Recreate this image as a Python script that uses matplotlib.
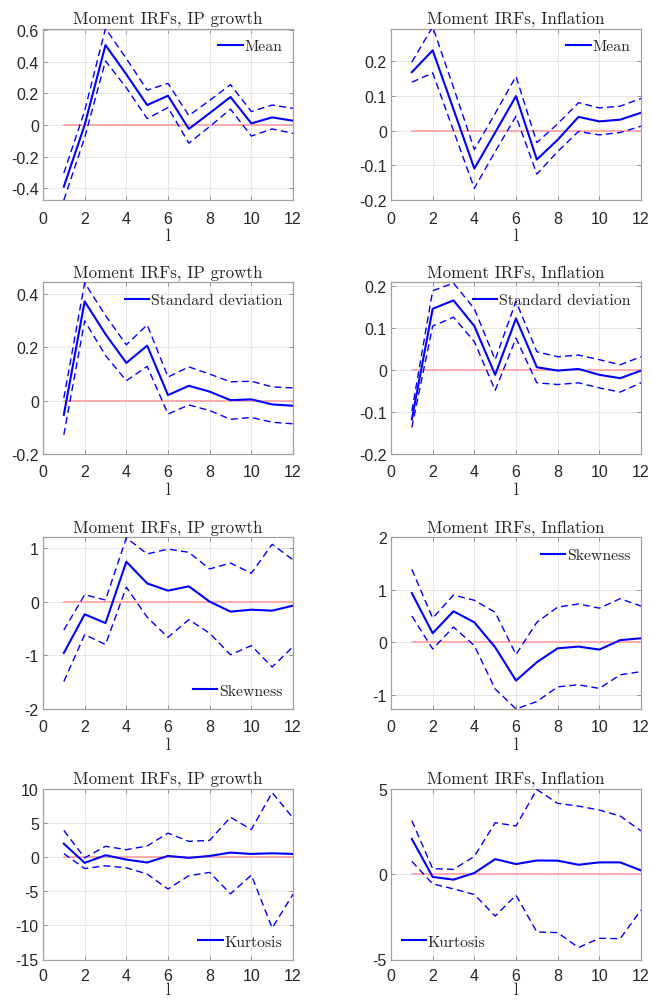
import matplotlib
matplotlib.use("Agg")
import matplotlib.pyplot as plt
import numpy as np

plt.rcParams['axes.unicode_minus'] = False

horizons = list(range(1, 13))

# IP growth - Mean
ip_mean = [-0.39, 0.0, 0.505, 0.32, 0.126, 0.185, -0.025, 0.075, 0.177, 0.01, 0.048, 0.027]
ip_mean_hi = [-0.305, 0.09, 0.61, 0.42, 0.22, 0.263, 0.06, 0.155, 0.255, 0.085, 0.126, 0.105]
ip_mean_lo = [-0.475, -0.08, 0.405, 0.235, 0.04, 0.11, -0.115, -0.01, 0.10, -0.07, -0.025, -0.053]

# Inflation - Mean
inf_mean = [0.169, 0.232, 0.062, -0.109, -0.005, 0.10, -0.083, -0.026, 0.04, 0.027, 0.032, 0.052]
inf_mean_hi = [0.198, 0.30, 0.125, -0.054, 0.05, 0.157, -0.034, 0.02, 0.081, 0.066, 0.071, 0.093]
inf_mean_lo = [0.14, 0.167, 0.0, -0.166, -0.06, 0.042, -0.125, -0.06, -0.002, -0.012, -0.005, 0.013]

# IP growth - Standard deviation
ip_sd = [-0.053, 0.373, 0.25, 0.142, 0.207, 0.021, 0.056, 0.034, 0.002, 0.005, -0.014, -0.019]
ip_sd_hi = [0.01, 0.443, 0.32, 0.21, 0.285, 0.089, 0.127, 0.10, 0.071, 0.073, 0.052, 0.048]
ip_sd_lo = [-0.128, 0.30, 0.17, 0.075, 0.129, -0.05, -0.016, -0.037, -0.07, -0.063, -0.081, -0.087]

# Inflation - Standard deviation
inf_sd = [-0.118, 0.145, 0.165, 0.104, -0.012, 0.122, 0.006, -0.002, 0.002, -0.012, -0.02, -0.002]
inf_sd_hi = [-0.098, 0.188, 0.206, 0.145, 0.024, 0.163, 0.043, 0.031, 0.035, 0.024, 0.012, 0.031]
inf_sd_lo = [-0.137, 0.104, 0.125, 0.067, -0.049, 0.075, -0.031, -0.035, -0.031, -0.043, -0.053, -0.031]

# IP growth - Skewness
ip_sk = [-0.957, -0.236, -0.40, 0.745, 0.34, 0.205, 0.286, 0.0, -0.186, -0.15, -0.168, -0.075]
ip_sk_hi = [-0.53, 0.13, 0.03, 1.19, 0.89, 0.98, 0.92, 0.61, 0.72, 0.53, 1.07, 0.78]
ip_sk_lo = [-1.49, -0.615, -0.80, 0.27, -0.29, -0.665, -0.335, -0.59, -0.99, -0.82, -1.22, -0.84]

# Inflation - Skewness
inf_sk = [0.936, 0.172, 0.59, 0.38, -0.095, -0.73, -0.38, -0.115, -0.083, -0.14, 0.04, 0.076]
inf_sk_hi = [1.39, 0.46, 0.90, 0.80, 0.57, -0.235, 0.38, 0.67, 0.73, 0.65, 0.83, 0.69]
inf_sk_lo = [0.50, -0.127, 0.29, -0.064, -0.89, -1.27, -1.13, -0.85, -0.81, -0.88, -0.62, -0.56]

# IP growth - Kurtosis
ip_ku = [1.93, -0.87, 0.24, -0.39, -0.82, 0.14, -0.14, 0.14, 0.63, 0.43, 0.53, 0.43]
ip_ku_hi = [3.86, -0.14, 1.55, 1.06, 1.6, 3.48, 2.27, 2.42, 5.8, 4.0, 9.4, 5.7]
ip_ku_lo = [0.48, -1.69, -1.3, -1.6, -2.5, -4.7, -2.75, -2.27, -5.4, -2.66, -10.4, -5.46]

# Inflation - Kurtosis
inf_ku = [2.05, -0.17, -0.33, 0.06, 0.87, 0.58, 0.79, 0.78, 0.54, 0.68, 0.68, 0.21]
inf_ku_hi = [3.12, 0.31, 0.27, 1.03, 3.0, 2.81, 4.94, 4.13, 3.97, 3.74, 3.39, 2.52]
inf_ku_lo = [0.74, -0.58, -0.87, -1.2, -2.46, -1.24, -3.39, -3.43, -4.3, -3.76, -3.78, -2.11]

titles = ["Moment IRFs, IP growth", "Moment IRFs, Inflation"]
moments = ["Mean", "Standard deviation", "Skewness", "Kurtosis"]

panels = [
    (ip_mean, ip_mean_hi, ip_mean_lo, (-0.475, 0.61), [-0.4, -0.2, 0, 0.2, 0.4, 0.6], "upper right"),
    (inf_mean, inf_mean_hi, inf_mean_lo, (-0.2, 0.295), [-0.2, -0.1, 0, 0.1, 0.2], "upper right"),
    (ip_sd, ip_sd_hi, ip_sd_lo, (-0.2, 0.445), [-0.2, 0, 0.2, 0.4], "upper right"),
    (inf_sd, inf_sd_hi, inf_sd_lo, (-0.2, 0.208), [-0.2, -0.1, 0, 0.1, 0.2], "upper right"),
    (ip_sk, ip_sk_hi, ip_sk_lo, (-2, 1.2), [-2, -1, 0, 1], "lower right"),
    (inf_sk, inf_sk_hi, inf_sk_lo, (-1.27, 2), [-1, 0, 1, 2], "upper right"),
    (ip_ku, ip_ku_hi, ip_ku_lo, (-15, 10), [-15, -10, -5, 0, 5, 10], "lower right"),
    (inf_ku, inf_ku_hi, inf_ku_lo, (-5, 5), [-5, 0, 5], "lower left"),
]

fig = plt.figure(figsize=(6.51, 10.04), dpi=100)
lefts = [43 / 651, 391 / 651]
width = 250 / 651
tops_px = [29.5, 283.3, 538.3, 789.5]
heights_px = [171.6, 171.6, 171.6, 171.0]

serif = 'cmr10'
sans = 'Liberation Sans'

def fmt(v):
    return '%g' % v

for i, (m, hi, lo, ylim, yticks, loc) in enumerate(panels):
    r, c = divmod(i, 2)
    hpx = heights_px[r]
    bottom = 1 - (tops_px[r] + hpx) / 1004
    ax = fig.add_axes([lefts[c], bottom, width, hpx / 1004])
    ax.plot(horizons, [0] * len(horizons), color='#ff9f9f', lw=1.2, zorder=2)
    ax.plot(horizons, m, color='#0000ff', lw=1.5, label=moments[r], zorder=4)
    ax.plot(horizons, hi, color='#0000ff', lw=1.0, ls=(0, (5, 3)), zorder=3)
    ax.plot(horizons, lo, color='#0000ff', lw=1.0, ls=(0, (5, 3)), zorder=3)
    ax.set_xlim(0, 12)
    ax.set_ylim(*ylim)
    xt = [0, 2, 4, 6, 8, 10, 12]
    ax.set_xticks(xt)
    ax.set_yticks(yticks)
    ax.set_yticklabels([fmt(v) for v in yticks])
    ax.set_xticklabels([str(v) for v in xt])
    for lab in ax.get_xticklabels() + ax.get_yticklabels():
        lab.set_fontfamily(sans)
        lab.set_fontsize(11.5)
        lab.set_color('#262626')
    ax.tick_params(direction='in', length=3, width=0.6, color='#808080',
                   top=True, right=True)
    ax.tick_params(axis='x', pad=7.5 if r < 3 else 6.0)
    ax.tick_params(axis='y', pad=3)
    ax.grid(True, color='#e6e6e6', lw=0.7)
    ax.set_axisbelow(True)
    for sp in ax.spines.values():
        sp.set_color('#a0a0a0')
        sp.set_linewidth(0.9)
    ax.set_title(titles[c], fontfamily=serif, fontsize=12.2, pad=4, color='#262626')
    ax.set_xlabel('l', fontfamily=serif, fontsize=12.5 if r < 3 else 12,
                  labelpad=1.5 if r < 3 else -0.5, color='#262626')
    leg = ax.legend(loc=loc, frameon=False, handlelength=1.55, handletextpad=0.1,
                    prop={'family': serif, 'size': 11.3}, borderaxespad=0.3)
    for t in leg.get_texts():
        t.set_color('#262626')

fig.savefig('out.png', dpi=100)
